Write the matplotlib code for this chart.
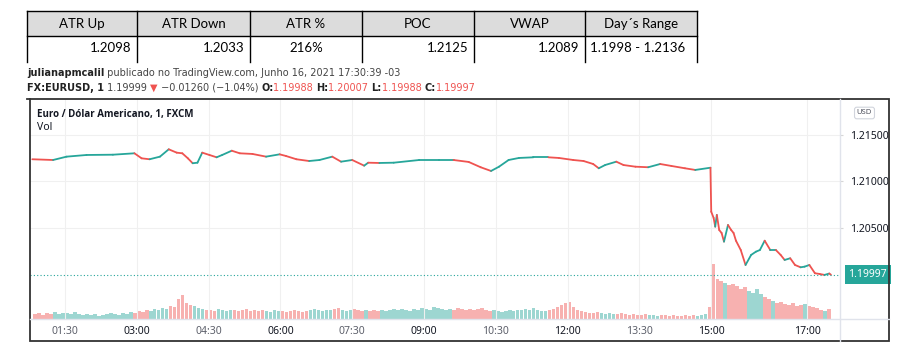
import matplotlib

matplotlib.use("Agg")
import matplotlib.pyplot as plt
import matplotlib.transforms as mtransforms
from matplotlib.collections import LineCollection
from matplotlib.patches import Rectangle
import numpy as np

# ---- data -------------------------------------------------------------
table_headers = ["ATR Up", "ATR Down", "ATR %", "POC", "VWAP", "Day´s Range"]
table_values = ["1.2098", "1.2033", "216%", "1.2125", "1.2089", "1.1998 - 1.2136"]

price_times = [
    "00:49", "01:15", "01:32", "01:57", "02:30", "02:57", "03:06", "03:16",
    "03:29", "03:40", "03:50", "03:57", "04:04", "04:10", "04:16", "04:22",
    "04:31", "04:40", "04:47", "04:59", "05:09", "05:25", "05:42", "05:59",
    "06:07", "06:20", "06:36", "06:49", "07:05", "07:16", "07:30", "07:45",
    "07:50", "08:04", "08:22", "08:54", "09:19", "09:37", "09:56", "10:11",
    "10:24", "10:34", "10:46", "10:59", "11:17", "11:36", "11:49", "12:07",
    "12:20", "12:32", "12:39", "12:47", "13:01", "13:10", "13:25", "13:41",
    "13:56", "14:10", "14:27", "14:40", "14:59", "15:00", "15:03", "15:05",
    "15:07", "15:10", "15:13", "15:16", "15:21", "15:25", "15:28", "15:31",
    "15:37", "15:43", "15:50", "15:56", "16:01", "16:07", "16:14", "16:21",
    "16:27", "16:32", "16:39", "16:45", "16:52", "16:57", "17:03", "17:10",
    "17:16", "17:22", "17:28", "17:30",
]
price_close = [
    1.21239, 1.21231, 1.21267, 1.21285, 1.21288, 1.21303, 1.21249, 1.21239,
    1.21267, 1.21346, 1.21310, 1.21303, 1.21249, 1.21196, 1.21202, 1.21310,
    1.21285, 1.21260, 1.21285, 1.21331, 1.21303, 1.21296, 1.21267, 1.21292,
    1.21274, 1.21239, 1.21220, 1.21231, 1.21267, 1.21213, 1.21231, 1.21170,
    1.21202, 1.21199, 1.21202, 1.21231, 1.21231, 1.21231, 1.21210, 1.21153,
    1.21113, 1.21159, 1.21231, 1.21253, 1.21260, 1.21260, 1.21253, 1.21231,
    1.21220, 1.21188, 1.21142, 1.21177, 1.21213, 1.21177, 1.21159, 1.21153,
    1.21188, 1.21167, 1.21142, 1.21124, 1.21148, 1.20675, 1.20608, 1.20514,
    1.20640, 1.20478, 1.20446, 1.20353, 1.20532, 1.20478, 1.20446, 1.20363,
    1.20263, 1.20102, 1.20210, 1.20245, 1.20263, 1.20363, 1.20263, 1.20263,
    1.20210, 1.20156, 1.20174, 1.20102, 1.20077, 1.20084, 1.20102, 1.20013,
    1.20005, 1.19995, 1.20010, 1.19997,
]

# 5-minute volume buckets starting at 00:50
vol_start = "00:50"
volume = [
    5, 6, 4, 6, 5, 7, 5, 6,
    6, 5, 7, 5, 4, 5,   4, 5, 3, 4, 5, 6,   5, 4, 6, 5, 7, 6,
    8, 7, 9, 8, 10, 9,  11, 10, 13, 12, 20, 24,  16, 14, 13, 11, 10, 9,
    9, 8, 10, 9, 8, 9,  9, 8, 9, 10, 8, 9,  8, 9, 8, 7, 9, 8,
    8, 7, 8, 9, 8, 7,  8, 9, 10, 9, 8, 9,  9, 10, 11, 9, 8, 9,
    10, 9, 8, 9, 8, 9,  8, 9, 8, 9, 10, 9,  10, 9, 8, 10, 9, 11,
    10, 9, 12, 11, 10, 9,  10, 9, 11, 10, 9, 10,  9, 10, 11, 9, 8, 9,
    8, 7, 8, 9, 8, 9,  9, 10, 9, 11, 9, 8,  8, 9, 10, 12, 14, 16,
    17, 12, 9, 8, 7, 6,  6, 7, 6, 5, 6, 5,  5, 6, 5, 4, 5, 4,
    4, 5, 4, 4, 3, 4,  4, 3, 4, 3, 3, 4,  3, 4, 3, 4, 5, 12,
    55, 40, 38, 36, 34, 35,  33, 30, 32, 28, 26, 30,  25, 22, 20, 18, 16, 17,
    15, 14, 16, 13, 14, 15,  13, 12, 11, 9, 8, 10,
]

time_ticks = ["01:30", "03:00", "04:30", "06:00", "07:30", "09:00",
              "10:30", "12:00", "13:30", "15:00", "17:00"]
price_ticks = [1.215, 1.210, 1.205]
last_price = 1.19997

UP = "#26a69a"
DOWN = "#ef5350"
TXT = "#131722"


def to_min(s):
    h, m = s.split(":")
    return int(h) * 60 + int(m)


t = np.array([to_min(s) for s in price_times], dtype=float)
p = np.array(price_close)
vt = to_min(vol_start) + 5 * np.arange(len(volume))
vol = np.array(volume, dtype=float)

fig = plt.figure(figsize=(9.2, 3.5), dpi=100)
fig.patch.set_facecolor("white")
W, H = 920, 350


def frac(x0, y0, x1, y1):
    return [x0 / W, 1 - y1 / H, (x1 - x0) / W, (y1 - y0) / H]


# ---- chart pane -------------------------------------------------------
vax = fig.add_axes(frac(30, 99, 840, 319))
vax.set_zorder(1)
ax = vax.twinx()
ax.set_zorder(2)
ax.patch.set_visible(False)

vax.set_xlim(46.1, 1061.4)
vax.set_ylim(0, 220)
ax.set_ylim(1.19521, 1.21887)

# volume bars, coloured by price direction over the bucket
p0 = np.interp(vt, t, p)
p1 = np.interp(vt + 5, t, p)
vcol = [UP if b >= a else DOWN for a, b in zip(p0, p1)]
vax.bar(vt + 2.5, vol, width=4.3, color=vcol, alpha=0.45, linewidth=0)

# price path
pts = np.column_stack([t, p])
segs = np.stack([pts[:-1], pts[1:]], axis=1)
cols = [UP if b >= a else DOWN for a, b in zip(p[:-1], p[1:])]
ax.add_collection(LineCollection(segs, colors=cols, linewidths=1.3,
                                 capstyle="round", joinstyle="round"))
ax.axhline(last_price, color=UP, lw=0.8, ls=(0, (1, 2)))

# grid
vax.set_xticks([to_min(s) for s in time_ticks])
vax.set_xticklabels(time_ticks, fontfamily="Noto Sans", fontsize=7.5)
for lab in vax.get_xticklabels():
    if lab.get_text().endswith(":00"):
        lab.set_fontweight("bold")
        lab.set_color(TXT)
    else:
        lab.set_color("#5d606b")
vax.tick_params(axis="x", length=0, pad=5)
vax.tick_params(axis="y", left=False, labelleft=False)
vax.grid(axis="x", color="#f0f0f0", lw=0.8)

ax.set_yticks(price_ticks)
ax.set_yticklabels([f"{v:.5f}" for v in price_ticks],
                   fontfamily="Noto Sans", fontsize=7.5, color=TXT)
ax.tick_params(axis="y", length=2.5, color="#d6d6d6", pad=5)
ax.grid(axis="y", color="#f0f0f0", lw=0.8)
for a in (vax, ax):
    for sp in a.spines.values():
        sp.set_visible(False)

tr = mtransforms.blended_transform_factory(ax.transAxes, ax.transData)
ax.text(1.0105, last_price, f"{last_price:.5f}", transform=tr, ha="left",
        va="center", color="white", fontsize=7.5, fontweight="bold",
        fontfamily="Noto Sans", clip_on=False,
        bbox=dict(boxstyle="square,pad=0.38", fc=UP, ec="none"))

# ---- overlay: table, captions, frame ---------------------------------
ov = fig.add_axes([0, 0, 1, 1], zorder=10)
ov.set_xlim(0, W)
ov.set_ylim(H, 0)
ov.axis("off")

xe = [27, 137, 250, 362, 474, 585, 697]
ytop, ymid, ybot = 11, 36, 62
aligns = ["right", "right", "center", "right", "right", "left"]
ov.add_patch(Rectangle((xe[0], ytop), xe[-1] - xe[0], ymid - ytop,
                       fc="#dcdcdc", ec="none", zorder=1))
ov.plot([xe[0], xe[-1]], [ytop, ytop], color="black", lw=1.0, zorder=2)
ov.plot([xe[0], xe[-1]], [ymid, ymid], color="black", lw=1.0, zorder=2)
for x in xe:
    ov.plot([x, x], [ytop, ybot], color="black", lw=1.0, zorder=2)
for i, (hd, val) in enumerate(zip(table_headers, table_values)):
    xl, xr = xe[i], xe[i + 1]
    ov.text((xl + xr) / 2, 24, hd, ha="center", va="center",
            fontfamily="Lato", fontsize=9.5, color="black")
    xv = {"right": xr - 6, "center": (xl + xr) / 2, "left": xl + 5}[aligns[i]]
    ov.text(xv, 48, val, ha=aligns[i], va="center",
            fontfamily="Lato", fontsize=9.5, color="black")

cap = dict(fontfamily=["Liberation Sans Narrow", "DejaVu Sans"], fontsize=7)


def chain(parts, x, y):
    prev = None
    for txt, color, weight in parts:
        if prev is None:
            prev = ov.text(x, y, txt, color=color, fontweight=weight,
                           va="center", ha="left", **cap)
        else:
            prev = ov.annotate(txt, xy=(1, 0), xycoords=prev, va="bottom",
                               ha="left", color=color, fontweight=weight, **cap)


chain([("julianapmcalil", "#222222", "bold"),
       (" publicado no TradingView.com, Junho 16, 2021 17:30:39 -03", "#444444", "normal")],
      27, 73)
chain([("FX:EURUSD, 1", "#222222", "bold"),
       (" 1.19999 ", "#444444", "normal"),
       ("▼", DOWN, "normal"),
       (" −0.01260 (−1.04%) ", "#444444", "normal"),
       ("O:", "#222222", "bold"), ("1.19988 ", DOWN, "normal"),
       ("H:", "#222222", "bold"), ("1.20007 ", DOWN, "normal"),
       ("L:", "#222222", "bold"), ("1.19988 ", DOWN, "normal"),
       ("C:", "#222222", "bold"), ("1.19997", DOWN, "normal")],
      27, 88)

ov.text(37, 114, "Euro / Dólar Americano, 1, FXCM",
        fontfamily=["Open Sans", "DejaVu Sans"], fontsize=7.0,
        fontweight="bold", color=TXT, va="center")
ov.text(37, 127, "Vol", fontfamily="Noto Sans", fontsize=7.5, color=TXT,
        va="center")
ov.text(864.5, 113, "USD", fontfamily="Noto Sans", fontsize=5.5, color="#50535e",
        ha="center", va="center",
        bbox=dict(boxstyle="round,pad=0.3,rounding_size=0.3", fc="white",
                  ec="#d1d4dc", lw=0.8))

# separators and frame
ov.plot([30, 889], [319, 319], color="#e0e3eb", lw=1.0)
ov.plot([840, 840], [99, 341], color="#e0e3eb", lw=1.0)
ov.add_patch(Rectangle((30, 99), 859, 242, fc="none", ec="#333333", lw=1.3))
ov.plot([27, 30], [99, 99], color="#333333", lw=1.3)

fig.savefig("out.png", dpi=100, facecolor="white")
